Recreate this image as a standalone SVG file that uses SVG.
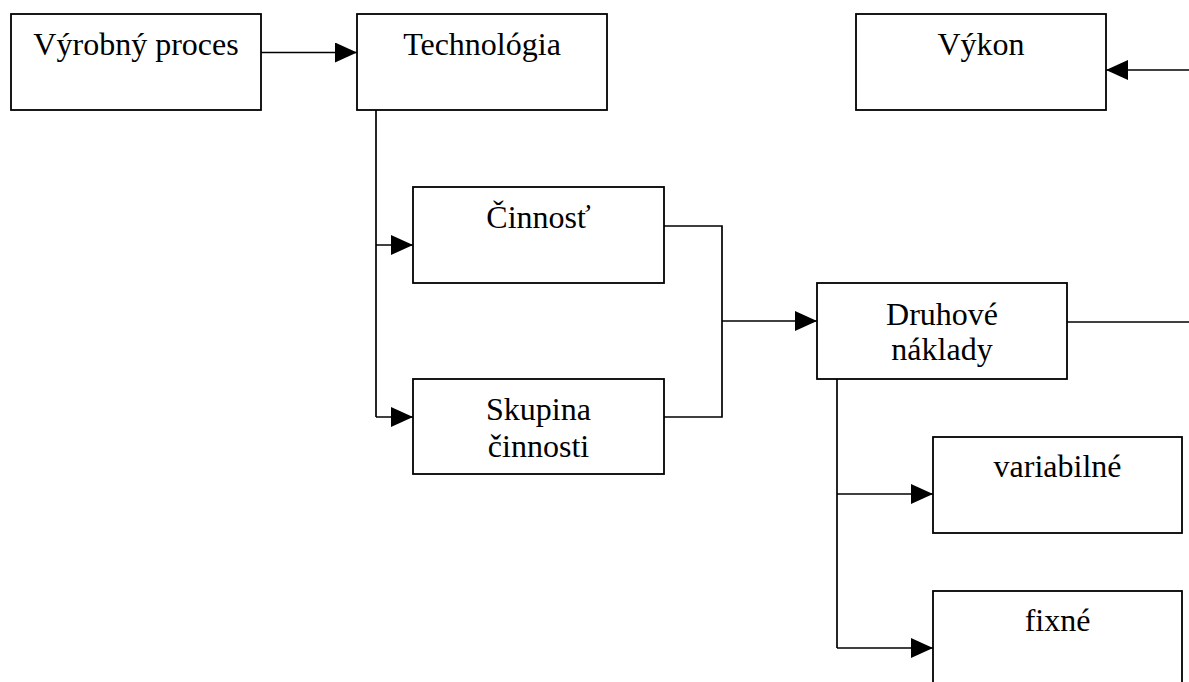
<svg xmlns="http://www.w3.org/2000/svg" width="1189" height="682" viewBox="0 0 1189 682">
<style>
.box{fill:#fff;stroke:#000;stroke-width:1.8}
.lbl{font-family:"Liberation Serif","Times New Roman",serif;font-size:32px;fill:#000;text-anchor:middle}
.con{fill:none;stroke:#000;stroke-width:1.7}
</style>
<defs>
<marker id="ah" viewBox="0 0 22 20" refX="22" refY="10" markerWidth="22" markerHeight="20" markerUnits="userSpaceOnUse" orient="auto">
<path d="M0,0 L22,10 L0,20 z" fill="#000"/>
</marker>
</defs>
<rect width="1189" height="682" fill="#fff"/>
<g id="connectors">
<path class="con" d="M261,52.5 H357" marker-end="url(#ah)"/>
<path class="con" d="M376,110 V417"/>
<path class="con" d="M376,245 H413" marker-end="url(#ah)"/>
<path class="con" d="M376,417 H413" marker-end="url(#ah)"/>
<path class="con" d="M664,226 H722 V417 H664"/>
<path class="con" d="M722,321 H817" marker-end="url(#ah)"/>
<path class="con" d="M1067,322 H1189"/>
<path class="con" d="M1189,70 H1106" marker-end="url(#ah)"/>
<path class="con" d="M837,379 V648"/>
<path class="con" d="M837,494 H933" marker-end="url(#ah)"/>
<path class="con" d="M837,648 H933" marker-end="url(#ah)"/>
</g>
<g id="vyrobny-proces">
<rect class="box" x="11" y="14" width="250" height="96"/>
<text class="lbl" x="136" y="55">Výrobný proces</text>
</g>
<g id="technologia">
<rect class="box" x="357" y="14" width="250" height="96"/>
<text class="lbl" x="482" y="55">Technológia</text>
</g>
<g id="vykon">
<rect class="box" x="856" y="14" width="250" height="96"/>
<text class="lbl" x="981" y="55">Výkon</text>
</g>
<g id="cinnost">
<rect class="box" x="413" y="187" width="251" height="96"/>
<text class="lbl" x="538.5" y="228">Činnosť</text>
</g>
<g id="skupina-cinnosti">
<rect class="box" x="413" y="379" width="251" height="95"/>
<text class="lbl" x="538.5" y="420">Skupina</text>
<text class="lbl" x="538.5" y="457">činnosti</text>
</g>
<g id="druhove-naklady">
<rect class="box" x="817" y="283" width="250" height="96"/>
<text class="lbl" x="942" y="325">Druhové</text>
<text class="lbl" x="942" y="360">náklady</text>
</g>
<g id="variabilne">
<rect class="box" x="933" y="437" width="249" height="96"/>
<text class="lbl" x="1057.5" y="477">variabilné</text>
</g>
<g id="fixne">
<rect class="box" x="933" y="591" width="249" height="96"/>
<text class="lbl" x="1057.5" y="631">fixné</text>
</g>
</svg>
